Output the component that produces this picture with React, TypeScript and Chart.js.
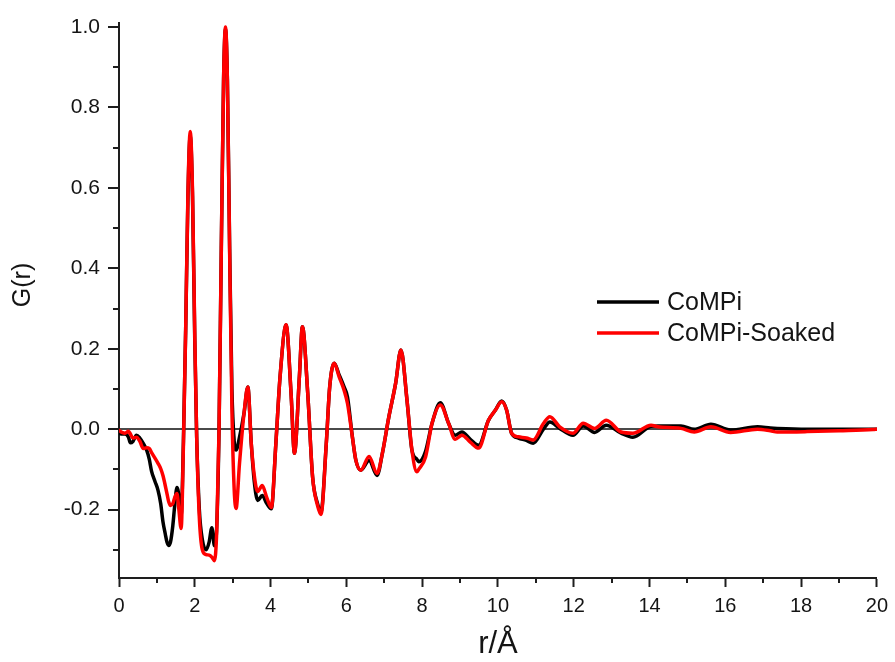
import React, { useEffect, useRef } from 'react';
import { Chart, registerables } from 'chart.js';

Chart.register(...registerables);

// r / Å (shared grid for both curves)
const r = [
  0.00, 0.08, 0.16, 0.25, 0.30, 0.37, 0.46, 0.55, 0.64, 0.73,
  0.80, 0.86, 0.95, 1.03, 1.10, 1.16, 1.22, 1.27, 1.31, 1.36,
  1.42, 1.47, 1.53, 1.58, 1.64, 1.70, 1.76, 1.82, 1.88, 1.94,
  2.00, 2.05, 2.12, 2.20, 2.30, 2.38, 2.45, 2.52, 2.58, 2.64,
  2.70, 2.76, 2.81, 2.86, 2.92, 2.98, 3.04, 3.09, 3.18, 3.30,
  3.40, 3.49, 3.57, 3.66, 3.78, 3.90, 4.02, 4.14, 4.25, 4.41,
  4.54, 4.63, 4.76, 4.84, 4.98, 5.11, 5.24, 5.33, 5.47, 5.56,
  5.68, 5.81, 5.94, 6.03, 6.16, 6.25, 6.38, 6.60, 6.81, 6.95,
  7.12, 7.30, 7.44, 7.60, 7.73, 7.86, 7.91, 8.09, 8.26, 8.48,
  8.70, 8.87, 9.05, 9.27, 9.49, 9.75, 9.93, 10.10, 10.23, 10.36,
  10.54, 10.75, 10.93, 11.20, 11.37, 11.63, 11.98, 12.25, 12.55, 12.86,
  13.25, 13.56, 14.04, 14.22, 14.83, 15.18, 15.62, 16.14, 16.85, 17.19,
  17.37, 18.16, 19.00, 19.90, 20.00,
];

// G(r) for CoMPi (black)
const gCoMPi = [
  -0.010, -0.012, -0.012, -0.020, -0.034, -0.030, -0.015, -0.022, -0.035, -0.052,
  -0.075, -0.105, -0.130, -0.152, -0.185, -0.230, -0.260, -0.282, -0.289, -0.280,
  -0.240, -0.190, -0.145, -0.165, -0.215, -0.030, 0.250, 0.580, 0.730, 0.580,
  0.220, -0.020, -0.200, -0.275, -0.300, -0.280, -0.245, -0.290, -0.240, 0.000,
  0.450, 0.870, 0.995, 0.870, 0.450, 0.100, -0.030, -0.052, -0.020, 0.040,
  0.105, -0.035, -0.130, -0.177, -0.165, -0.185, -0.198, -0.035, 0.130, 0.259,
  0.090, -0.060, 0.130, 0.255, 0.090, -0.120, -0.185, -0.206, -0.036, 0.105,
  0.164, 0.135, 0.105, 0.080, -0.020, -0.077, -0.102, -0.078, -0.115, -0.060,
  0.030, 0.114, 0.197, 0.072, -0.052, -0.075, -0.081, -0.055, 0.014, 0.066,
  0.014, -0.015, -0.007, -0.025, -0.040, 0.022, 0.047, 0.070, 0.047, -0.010,
  -0.022, -0.028, -0.035, 0.000, 0.018, 0.002, -0.015, 0.008, -0.008, 0.010,
  -0.010, -0.020, 0.007, 0.008, 0.008, 0.000, 0.012, -0.002, 0.006, 0.003,
  0.002, 0.000, 0.000, 0.000, 0.000,
];

// G(r) for CoMPi-Soaked (red)
const gSoaked = [
  -0.003, -0.008, -0.010, -0.005, -0.012, -0.022, -0.020, -0.030, -0.048, -0.046,
  -0.048, -0.058, -0.072, -0.085, -0.098, -0.115, -0.140, -0.162, -0.180, -0.190,
  -0.185, -0.170, -0.160, -0.200, -0.247, -0.040, 0.250, 0.590, 0.740, 0.590,
  0.230, -0.020, -0.220, -0.300, -0.312, -0.313, -0.318, -0.327, -0.250, 0.000,
  0.450, 0.870, 1.000, 0.870, 0.440, 0.050, -0.150, -0.197, -0.085, 0.040,
  0.105, -0.035, -0.115, -0.155, -0.140, -0.170, -0.195, -0.035, 0.130, 0.260,
  0.090, -0.060, 0.130, 0.255, 0.090, -0.120, -0.190, -0.212, -0.036, 0.105,
  0.164, 0.130, 0.097, 0.064, -0.020, -0.077, -0.102, -0.068, -0.110, -0.060,
  0.030, 0.114, 0.197, 0.072, -0.052, -0.106, -0.100, -0.069, 0.014, 0.060,
  0.014, -0.025, -0.015, -0.032, -0.047, 0.022, 0.047, 0.068, 0.047, -0.010,
  -0.019, -0.022, -0.027, 0.014, 0.031, 0.006, -0.010, 0.015, 0.002, 0.022,
  -0.007, -0.010, 0.010, 0.006, 0.002, -0.007, 0.006, -0.008, 0.000, -0.004,
  -0.007, -0.006, -0.004, -0.001, 0.000,
];

const seriesLabels = ['CoMPi', 'CoMPi-Soaked'];
const seriesColors = ['#000000', '#ff0000'];
const xTitle = 'r/Å';
const yTitle = 'G(r)';
const xMinorTicks = [1, 3, 5, 7, 9, 11, 13, 15, 17, 19];
const yMinorTicks = [-0.3, -0.1, 0.1, 0.3, 0.5, 0.7, 0.9];

const FONT = '"Liberation Sans", Arial, Helvetica, sans-serif';
const AXIS = '#1e1e1e';
const TEXT = '#141414';

const decorPlugin = {
  id: 'decor',
  afterDraw(chart: any) {
    const { ctx, chartArea, scales } = chart;
    const xs = scales.x;
    const ys = scales.y;
    ctx.save();
    // minor ticks
    ctx.strokeStyle = AXIS;
    ctx.lineWidth = 2;
    ctx.beginPath();
    xMinorTicks.forEach((v) => {
      const px = Math.round(xs.getPixelForValue(v));
      ctx.moveTo(px, chartArea.bottom);
      ctx.lineTo(px, chartArea.bottom + 5);
    });
    yMinorTicks.forEach((v) => {
      const py = Math.round(ys.getPixelForValue(v));
      ctx.moveTo(chartArea.left, py);
      ctx.lineTo(chartArea.left - 6, py);
    });
    ctx.stroke();

    // legend
    const lx = chartArea.left + 478;
    const ly = chartArea.top + 279;
    chart.data.datasets.forEach((ds: any, i: number) => {
      const y = ly + i * 31;
      ctx.strokeStyle = ds.borderColor;
      ctx.lineWidth = 3.5;
      ctx.beginPath();
      ctx.moveTo(lx, y);
      ctx.lineTo(lx + 62, y);
      ctx.stroke();
      ctx.fillStyle = TEXT;
      ctx.font = `25px ${FONT}`;
      ctx.textAlign = 'left';
      ctx.textBaseline = 'middle';
      ctx.fillText(ds.label, lx + 70, y + 1);
    });

    // y-axis title
    ctx.translate(23, chartArea.top + 262);
    ctx.rotate(-Math.PI / 2);
    ctx.fillStyle = TEXT;
    ctx.font = `25px ${FONT}`;
    ctx.textAlign = 'center';
    ctx.textBaseline = 'middle';
    ctx.fillText(yTitle, 0, 0);
    ctx.restore();
  },
};

export default function App() {
  const canvasRef = useRef<HTMLCanvasElement | null>(null);

  useEffect(() => {
    if (!canvasRef.current) return;
    const chart = new Chart(canvasRef.current, {
      type: 'line',
      data: {
        datasets: [
          {
            label: seriesLabels[0],
            data: r.map((x, i) => ({ x, y: gCoMPi[i] })),
            borderColor: seriesColors[0],
            order: 2,
          },
          {
            label: seriesLabels[1],
            data: r.map((x, i) => ({ x, y: gSoaked[i] })),
            borderColor: seriesColors[1],
            order: 1,
          },
        ],
      },
      options: {
        animation: false,
        responsive: false,
        devicePixelRatio: 1,
        layout: { padding: { left: 0, right: 15, top: 23, bottom: 0 } },
        plugins: {
          legend: { display: false },
          tooltip: { enabled: false },
        },
        elements: {
          point: { radius: 0 },
          line: {
            borderWidth: 3.5,
            cubicInterpolationMode: 'monotone',
            borderJoinStyle: 'round',
            borderCapStyle: 'round',
            fill: false,
          },
        },
        scales: {
          x: {
            type: 'linear',
            min: 0,
            max: 20,
            afterFit: (s: any) => {
              s.height = 84;
            },
            border: { display: true, color: AXIS, width: 2 },
            grid: {
              drawOnChartArea: false,
              drawTicks: true,
              tickLength: 9,
              tickWidth: 2,
              tickColor: AXIS,
            },
            ticks: {
              stepSize: 2,
              autoSkip: false,
              maxRotation: 0,
              padding: 7,
              color: TEXT,
              font: { family: FONT, size: 20 },
            },
            title: {
              display: true,
              text: xTitle,
              color: TEXT,
              font: { family: FONT, size: 31, lineHeight: 1 },
              padding: { top: 0, bottom: 2 },
            },
          },
          y: {
            type: 'linear',
            min: -0.37,
            max: 1.01,
            afterFit: (s: any) => {
              s.width = 119;
            },
            border: { display: true, color: AXIS, width: 2 },
            grid: {
              drawOnChartArea: true,
              drawTicks: true,
              color: (c: any) => (c.tick && c.tick.value === 0 ? '#4a4a4a' : 'rgba(0,0,0,0)'),
              lineWidth: 2,
              tickLength: 11,
              tickWidth: 2,
              tickColor: AXIS,
            },
            ticks: {
              stepSize: 0.2,
              includeBounds: false,
              padding: 8,
              color: TEXT,
              font: { family: FONT, size: 21 },
              callback: (v: any) => Number(v).toFixed(1),
            },
          },
        },
      },
      plugins: [decorPlugin],
    });
    return () => chart.destroy();
  }, []);

  return (
    <div style={{ position: 'absolute', left: 0, top: 0, width: 895, height: 662, background: '#ffffff' }}>
      <canvas ref={canvasRef} width={895} height={662} style={{ display: 'block' }} />
    </div>
  );
}
